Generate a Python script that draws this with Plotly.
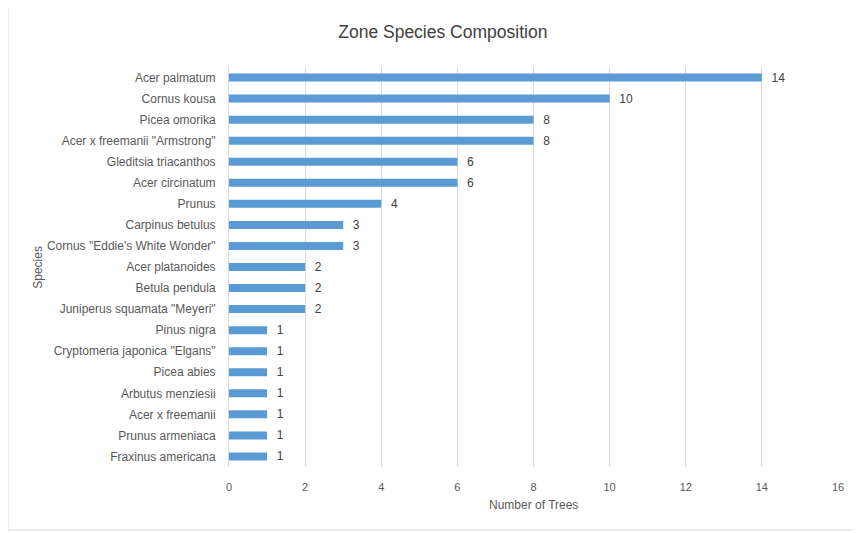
import plotly.graph_objects as go

species = ["Acer palmatum", "Cornus kousa", "Picea omorika", "Acer x freemanii \"Armstrong\"",
           "Gleditsia triacanthos", "Acer circinatum", "Prunus", "Carpinus betulus",
           "Cornus \"Eddie's White Wonder\"", "Acer platanoides", "Betula pendula",
           "Juniperus squamata \"Meyeri\"", "Pinus nigra", "Cryptomeria japonica \"Elgans\"",
           "Picea abies", "Arbutus menziesii", "Acer x freemanii", "Prunus armeniaca",
           "Fraxinus americana"]
counts = [14, 10, 8, 8, 6, 6, 4, 3, 3, 2, 2, 2, 1, 1, 1, 1, 1, 1, 1]
x_ticks = [0, 2, 4, 6, 8, 10, 12, 14, 16]

FONT = "Liberation Sans, Arial"

fig = go.Figure(go.Bar(
    y=species, x=counts, orientation="h",
    marker=dict(color="#5B9BD5", line=dict(width=0)),
    text=["  " + str(c) for c in counts], textposition="outside",
    textfont=dict(size=12, color="#404040", family=FONT),
    constraintext="none",
    cliponaxis=False,
))

fig.update_layout(
    width=861, height=533,
    margin=dict(l=221, r=31, t=59, b=74, autoexpand=False),
    paper_bgcolor="white", plot_bgcolor="white",
    bargap=0.62,
    showlegend=False,
    font=dict(family=FONT, color="#595959", size=12),
    title=dict(text="Zone Species Composition", x=0.505, xanchor="center", y=0.955, yanchor="middle",
               font=dict(size=17.5, color="#404040", family=FONT)),
    xaxis=dict(range=[0, 16], tickvals=x_ticks, showgrid=True, gridcolor="#D9D9D9", gridwidth=1,
               zeroline=False, showline=False, ticks="", automargin=False,
               tickfont=dict(size=11, color="#595959"), ticklabelstandoff=12),
    yaxis=dict(autorange="reversed", showgrid=False, zeroline=False, showline=True,
               linecolor="#D9D9D9", linewidth=1, ticks="", ticklabelstandoff=10, automargin=False,
               tickfont=dict(size=12, color="#595959")),
    annotations=[
        dict(text="Number of Trees", xref="paper", yref="paper", x=0.5, y=-0.095, xanchor="center",
             yanchor="middle", showarrow=False, font=dict(size=12, color="#595959")),
        dict(text="Species", xref="paper", yref="paper", x=-0.314, y=0.5, xanchor="center",
             yanchor="middle", textangle=-90, showarrow=False, font=dict(size=12, color="#595959")),
    ],
    shapes=[dict(type="rect", xref="paper", yref="paper", x0=-0.3629, x1=1.0279, y0=-0.1575, y1=1.155,
                 line=dict(color="#D9D9D9", width=1), fillcolor="rgba(0,0,0,0)", layer="below")],
)

fig.write_html("out.html")
